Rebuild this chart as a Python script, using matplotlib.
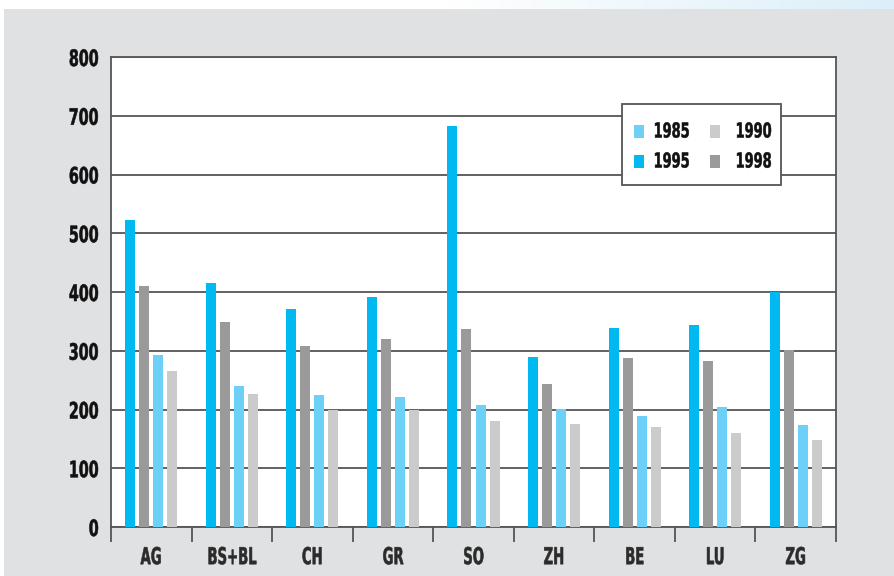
import matplotlib
matplotlib.use("Agg")
import matplotlib.pyplot as plt
import numpy as np
from matplotlib.patches import Rectangle
from matplotlib.font_manager import FontProperties
from matplotlib.patheffects import AbstractPathEffect
from matplotlib.transforms import Affine2D

categories = ["AG", "BS+BL", "CH", "GR", "SO", "ZH", "BE", "LU", "ZG"]
v1995 = [522, 415, 371, 391, 682, 289, 339, 344, 400]
v1998 = [410, 349, 308, 320, 337, 243, 288, 283, 301]
v1985 = [293, 240, 225, 221, 208, 201, 189, 204, 174]
v1990 = [265, 226, 199, 199, 180, 175, 170, 160, 148]
yticks = [0, 100, 200, 300, 400, 500, 600, 700, 800]

plt.rcParams['font.family'] = ['DejaVu Sans']


class Squeeze(AbstractPathEffect):
    """Condense glyph outlines horizontally around an anchor, with a thin stroke."""
    def __init__(self, sx, anchor="center", lw=0.4):
        super().__init__()
        self.sx = sx
        self.anchor = anchor
        self.lw = lw

    def draw_path(self, renderer, gc, tpath, affine, rgbFace=None):
        ext = tpath.get_extents()
        if self.anchor == "center":
            cx = (ext.x0 + ext.x1) / 2
        elif self.anchor == "right":
            cx = ext.x1
        else:
            cx = ext.x0
        t = Affine2D().translate(-cx, 0).scale(self.sx, 1).translate(cx, 0) + affine
        gc0 = renderer.new_gc()
        gc0.copy_properties(gc)
        gc0.set_linewidth(self.lw)
        if rgbFace is not None:
            gc0.set_foreground(rgbFace)
        renderer.draw_path(gc0, tpath, t, rgbFace)
        gc0.restore()


def fprop(size):
    return FontProperties(family="DejaVu Sans", stretch="condensed", weight="bold", size=size)


W, H = 895, 576
fig = plt.figure(figsize=(W/100, H/100), dpi=100)
fig.patch.set_facecolor("white")
bg = "#e0e1e3"
fig.patches.append(Rectangle((4/W, 0), 1, (H-9)/H, transform=fig.transFigure,
                             facecolor=bg, edgecolor="none", zorder=-10))
gax = fig.add_axes([0, (H-9)/H, 1, 9/H])
grad = np.linspace(0, 1, 400)
grad = np.clip((grad - 0.5) / 0.5, 0, 1)
c0 = np.array([1, 1, 1]); c1 = np.array([0xdc, 0xef, 0xf9]) / 255
img = c0[None, None, :] * (1 - grad[None, :, None]) + c1[None, None, :] * grad[None, :, None]
gax.imshow(img, aspect="auto", extent=[0, 1, 0, 1])
gax.axis("off")

ax = fig.add_axes([111/W, (H-527)/H, (836-111)/W, (527-57)/H])
ax.set_zorder(5)
ax.set_facecolor("white")

x = np.arange(len(categories))
bw = 10/80.5
step = 14/80.5
c1995, c1998, c1985, c1990 = "#00b9f1", "#9a9a9a", "#6dd0f7", "#cbcbcb"
series = [(v1995, c1995), (v1998, c1998), (v1985, c1985), (v1990, c1990)]
offs = [-1.5*step, -0.5*step, 0.5*step, 1.5*step]
for (vals, col), o in zip(series, offs):
    ax.bar(x + o, vals, width=bw, color=col, zorder=3)

ax.set_xlim(-0.5, len(categories) - 0.5)
ax.set_ylim(0, 800)
ax.set_yticks(yticks)
ax.set_yticklabels([str(t) for t in yticks], color="#111111")
for t in ax.get_yticklabels():
    t.set_fontproperties(fprop(16.3))
    t.set_path_effects([Squeeze(0.7, "right")])
ax.tick_params(axis="y", length=0, pad=8.6)
ax.yaxis.grid(True, color="#555555", linewidth=1.3, zorder=1)
ax.set_axisbelow(True)

ax.set_xticks(x)
ax.set_xticklabels(categories, color="#2b2b2b")
for t in ax.get_xticklabels():
    t.set_fontproperties(fprop(16.8))
    t.set_path_effects([Squeeze(0.63, "center")])
ax.tick_params(axis="x", which="major", length=0, pad=13.8)
ax.set_xticks(np.arange(-0.5, len(categories), 1), minor=True)
ax.tick_params(axis="x", which="minor", length=11, width=1.3, color="#555555", direction="out")

for s in ax.spines.values():
    s.set_color("#555555")
    s.set_linewidth(1.3)

# legend (drawn at pixel positions of the figure)
def fx(px):
    return px / W
def fy(py):
    return 1 - py / H

fig.patches.append(Rectangle((fx(622), fy(185)), (781-622)/W, (185-104)/H,
                             transform=fig.transFigure, facecolor="white",
                             edgecolor="#555555", linewidth=1.3, zorder=10))
leg_items = [("1985", c1985, 634, 653, 137.5), ("1990", c1990, 710, 735, 137.5),
             ("1995", c1995, 634, 653, 167.5), ("1998", c1998, 710, 735, 167.5)]
for lab, col, hx, tx, base in leg_items:
    fig.patches.append(Rectangle((fx(hx), fy(base)), 10/W, 13/H,
                                 transform=fig.transFigure, facecolor=col,
                                 edgecolor="none", zorder=11))
    txt = fig.text(fx(tx), fy(base), lab, ha="left", va="baseline",
                   fontproperties=fprop(14.8), color="#111111", zorder=12)
    txt.set_path_effects([Squeeze(0.7, "left")])

fig.savefig("out.png", dpi=100, facecolor=fig.get_facecolor())
